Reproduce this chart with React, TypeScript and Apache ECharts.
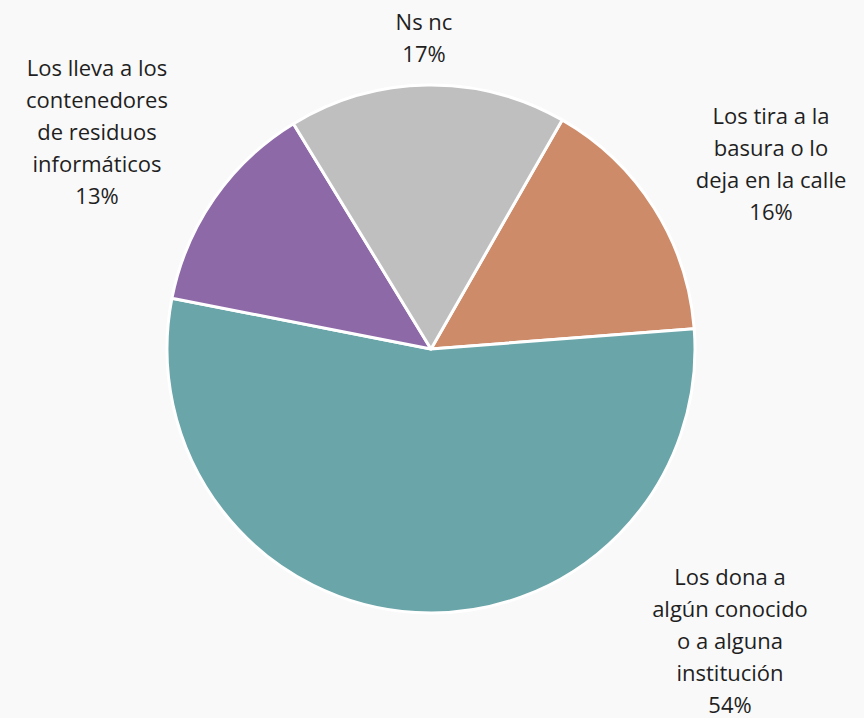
import React, { useEffect, useRef } from "react";
import * as echarts from "echarts";

const categories = [
  "Los tira a la\nbasura o lo\ndeja en la calle",
  "Los dona a\nalgún conocido\no a alguna\ninstitución",
  "Los lleva a los\ncontenedores\nde residuos\ninformáticos",
  "Ns nc",
];
const values = [15.5, 54.3, 13.2, 17.0];
const colors = ["#CD8B6A", "#6AA5A9", "#8E69A8", "#BFBFBF"];
const labelCenters = [
  [771, 163],
  [730, 640],
  [97, 131],
  [424, 37],
];

export default function App() {
  const ref = useRef<HTMLDivElement>(null);
  useEffect(() => {
    document.body.style.margin = "0";
    const chart = echarts.init(ref.current!, null, { renderer: "svg" });
    chart.setOption({
      animation: false,
      backgroundColor: "#F9F9F9",
      series: [
        {
          type: "pie",
          center: [431, 349],
          radius: 264,
          startAngle: 60.2,
          clockwise: true,
          data: categories.map((c, i) => ({
            name: c,
            value: values[i],
            itemStyle: { color: colors[i] },
          })),
          itemStyle: { borderColor: "#FFFFFF", borderWidth: 3 },
          label: {
            show: true,
            position: "outside",
            formatter: (p: any) => `${p.name}\n${Math.round(p.percent)}%`,
            fontFamily: "Open Sans",
            fontSize: 22,
            lineHeight: 32,
            color: "#1F1F1F",
            align: "center",
          },
          labelLine: { show: false },
          labelLayout: (p: any) => ({
            x: labelCenters[p.dataIndex][0],
            y: labelCenters[p.dataIndex][1],
            align: "center",
            verticalAlign: "middle",
          }),
          emphasis: { disabled: true },
        },
      ],
    });
    return () => chart.dispose();
  }, []);
  return <div ref={ref} style={{ width: 864, height: 718 }} />;
}
